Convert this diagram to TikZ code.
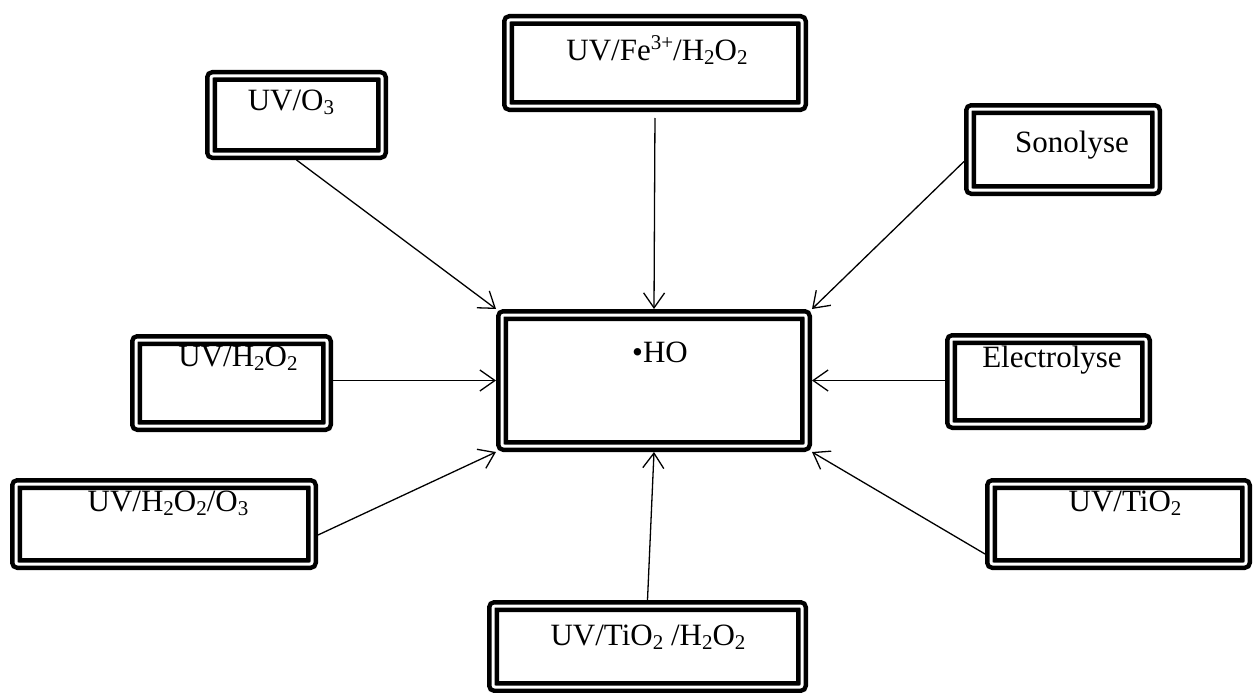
\documentclass[tikz,border=0pt]{standalone}
\usepackage{fontspec}
\setmainfont{Liberation Serif}
\usetikzlibrary{arrows.meta}
\newcommand{\mysb}[1]{\raisebox{-0.3ex}{\fontsize{21}{21}\selectfont #1}}
\newcommand{\mysp}[1]{\raisebox{0.8ex}{\fontsize{21}{21}\selectfont #1}}
\begin{document}
\begin{tikzpicture}[x=1pt,y=-1pt,
  box/.style={draw, line width=4.5pt, double, double distance=3pt, rounded corners=2pt, outer sep=6pt, inner sep=0pt},
  lbl/.style={font=\fontsize{31}{37}\selectfont, inner sep=0pt},
  conn/.style={line width=1.3pt, -{Straight Barb[length=15pt,width=21pt,line width=1.3pt]}}]
\useasboundingbox (0,0) rectangle (1253,693);
\node[box, minimum width=171pt, minimum height=78pt] (o3) at (296.5,115) {};
\node[box, minimum width=294pt, minimum height=86pt] (fe) at (655,63) {};
\node[box, minimum width=186pt, minimum height=81pt] (son) at (1063,149.5) {};
\node[box, minimum width=304pt, minimum height=131pt] (ho) at (654,380.5) {};
\node[box, minimum width=191pt, minimum height=86pt] (h2) at (231.5,383) {};
\node[box, minimum width=195pt, minimum height=85pt] (el) at (1048.5,381.5) {};
\node[box, minimum width=296pt, minimum height=80pt] (h2o3) at (164,524) {};
\node[box, minimum width=255pt, minimum height=80pt] (ti) at (1118.5,524) {};
\node[box, minimum width=309pt, minimum height=81pt] (tih) at (647.5,646.5) {};

\node[lbl] (to3) at (291,102) {UV/O\mysb{3}};
\node[lbl] (tfe) at (657,50) {UV/Fe\mysp{3+}/H\mysb{2}O\mysb{2}};
\node[lbl] (tson) at (1072,145) {Sonolyse};
\node[lbl] (tho) at (660,352) {•HO};
\node[lbl] (th2) at (238,358) {UV/H\mysb{2}O\mysb{2}};
\node[lbl] (tel) at (1052,360) {Electrolyse};
\node[lbl] (th2o3) at (168,503) {UV/H\mysb{2}O\mysb{2}/O\mysb{3}};
\node[lbl] (tti) at (1125,503) {UV/TiO\mysb{2}};
\node[lbl] (ttih) at (648,637) {UV/TiO\mysb{2} /H\mysb{2}O\mysb{2}};

\draw[conn] (o3.south) -- (ho.north west);
\draw[conn, shorten <=6pt] (fe.south) -- (ho.north);
\draw[conn] ([yshift=-12pt]son.west) -- (ho.north east);
\draw[conn] (ho.west -| h2.east) -- (ho.west);
\draw[conn] (ho.east -| el.west) -- (ho.east);
\draw[conn] ([yshift=-11pt]h2o3.east) -- (ho.south west);
\draw[conn] (tih.north) -- (ho.south);
\draw[conn] ([yshift=-30pt]ti.west) -- (ho.south east);
\end{tikzpicture}
\end{document}
